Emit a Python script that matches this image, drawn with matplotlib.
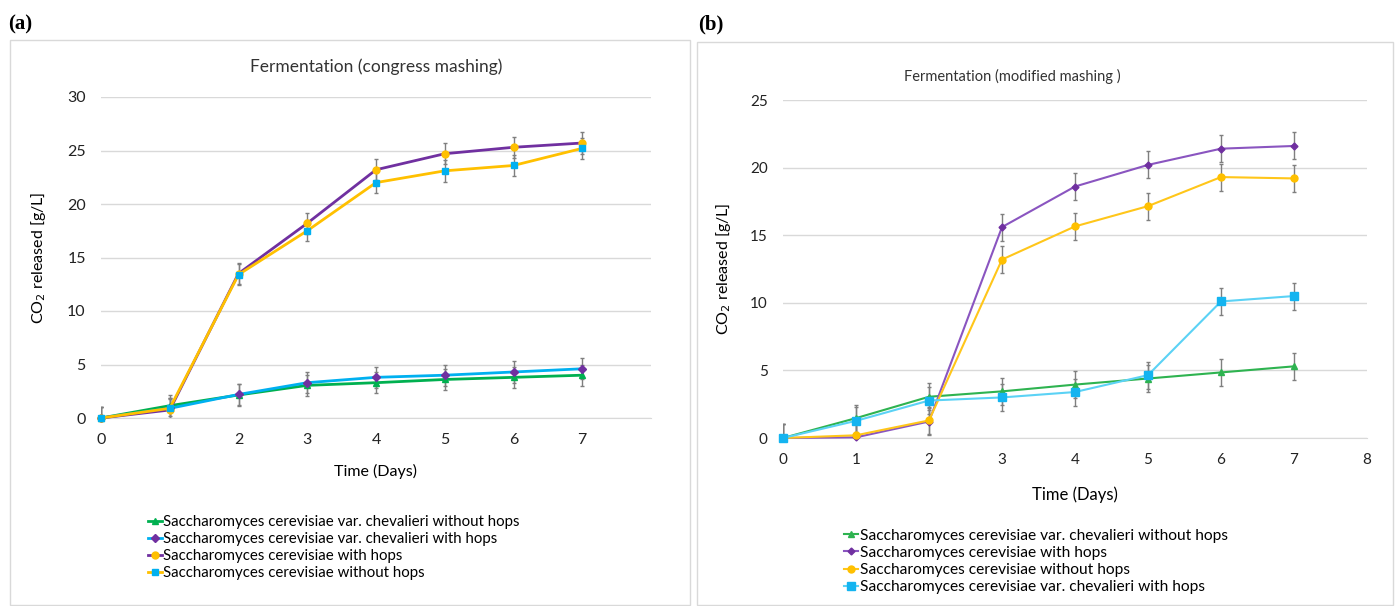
import matplotlib
matplotlib.use("Agg")
import matplotlib.pyplot as plt
from matplotlib.patches import Rectangle

plt.rcParams['font.family'] = ['Lato', 'DejaVu Sans']

days = [0, 1, 2, 3, 4, 5, 6, 7]

# panel (a) - congress mashing
a_labels = ["Saccharomyces cerevisiae var. chevalieri without hops",
            "Saccharomyces cerevisiae var. chevalieri with hops",
            "Saccharomyces cerevisiae with hops",
            "Saccharomyces cerevisiae without hops"]
a_chev_nohops = [0, 1.15, 2.15, 3.05, 3.3, 3.6, 3.8, 4.0]
a_chev_hops = [0, 0.9, 2.2, 3.3, 3.8, 4.0, 4.3, 4.6]
a_cer_hops = [0, 0.75, 13.5, 18.2, 23.2, 24.7, 25.3, 25.7]
a_cer_nohops = [0, 0.9, 13.4, 17.5, 22.0, 23.1, 23.6, 25.2]

# panel (b) - modified mashing
b_labels = ["Saccharomyces cerevisiae var. chevalieri without hops",
            "Saccharomyces cerevisiae with hops",
            "Saccharomyces cerevisiae without hops",
            "Saccharomyces cerevisiae var. chevalieri with hops"]
b_chev_nohops = [0, 1.47, 3.05, 3.45, 3.95, 4.4, 4.85, 5.3]
b_cer_hops = [0, 0.05, 1.22, 15.6, 18.6, 20.2, 21.4, 21.6]
b_cer_nohops = [0, 0.2, 1.3, 13.2, 15.65, 17.15, 19.3, 19.2]
b_chev_hops = [0, 1.27, 2.77, 3.0, 3.4, 4.65, 10.1, 10.5]

err = 1.0

fig = plt.figure(figsize=(13.95, 6.06), dpi=100)

# panel frames
fig.patches.append(Rectangle((10/1395, 1-605/606), 680/1395, 565/606, transform=fig.transFigure,
                             fill=False, edgecolor='#d9d9d9', linewidth=1))
fig.patches.append(Rectangle((697/1395, 1-605/606), 696/1395, 563/606, transform=fig.transFigure,
                             fill=False, edgecolor='#d9d9d9', linewidth=1))
fig.text(8/1395, 1-24/606, "(a)", fontsize=15, fontweight='bold', family='Liberation Serif', va='center')
fig.text(698/1395, 1-24/606, "(b)", fontsize=15, fontweight='bold', family='Liberation Serif', va='center')


def style_axes(ax, ymax, xmax, xticks, fs):
    ax.set_xlim(0, xmax)
    ax.set_ylim(0, ymax)
    ax.set_yticks(range(0, ymax + 1, 5))
    ax.set_xticks(xticks)
    ax.grid(axis='y', color='#d9d9d9', linewidth=1)
    ax.set_axisbelow(True)
    for s in ['top', 'right', 'left']:
        ax.spines[s].set_visible(False)
    ax.spines['bottom'].set_color('#d9d9d9')
    ax.tick_params(length=0, labelsize=fs, colors='#222222', pad=11)


def series(ax, y, lc, mc, marker, ms, lw, label):
    ax.errorbar(days, y, yerr=err, fmt='none', ecolor='#7f7f7f', elinewidth=1, capsize=1.5, zorder=2)
    ax.plot(days, y, color=lc, linewidth=lw, marker=marker, markersize=ms,
            markerfacecolor=mc, markeredgecolor=mc, label=label, zorder=3, clip_on=False)


# ---- (a)
ax1 = fig.add_axes([101/1395, 1-418/606, 550/1395, 321/606])
style_axes(ax1, 30, 8, days, 11.5)
series(ax1, a_chev_nohops, '#00b050', '#00b050', '^', 4.5, 2, a_labels[0])
series(ax1, a_chev_hops, '#00b0f0', '#7030a0', 'D', 4, 2, a_labels[1])
series(ax1, a_cer_hops, '#7030a0', '#ffc000', 'o', 5, 2, a_labels[2])
series(ax1, a_cer_nohops, '#ffc000', '#00b0f0', 's', 5, 2, a_labels[3])
ax1.set_title("Fermentation (congress mashing)", fontsize=12.5, color='#333333', pad=18)
ax1.set_xlabel("Time (Days)", fontsize=11.5, labelpad=12)
ax1.set_ylabel("CO$_2$ released [g/L]", fontsize=11.5, labelpad=14)
ax1.legend(loc='upper left', bbox_to_anchor=(41/550, -0.285), frameon=False, fontsize=10.8,
           handlelength=0.9, handletextpad=0.1, labelspacing=0.2, borderaxespad=0)

# ---- (b)
ax2 = fig.add_axes([783/1395, 1-438/606, 584/1395, 338/606])
style_axes(ax2, 25, 8, range(0, 9), 11)
series(ax2, b_chev_nohops, '#2eb350', '#2eb350', '^', 4.5, 1.5, b_labels[0])
series(ax2, b_cer_hops, '#8a55c0', '#7030a0', 'D', 3.5, 1.5, b_labels[1])
series(ax2, b_cer_nohops, '#ffc61a', '#ffc000', 'o', 5, 1.5, b_labels[2])
series(ax2, b_chev_hops, '#5bd2f5', '#14b4f0', 's', 5.5, 1.5, b_labels[3])
ax2.set_title("Fermentation (modified mashing )", fontsize=10.5, color='#333333', pad=14,
              x=(1012-783)/584)
ax2.set_xlabel("Time (Days)", fontsize=12, labelpad=14)
ax2.set_ylabel("CO$_2$ released [g/L]", fontsize=11.5, labelpad=12)
ax2.legend(loc='upper left', bbox_to_anchor=(55/584, -0.25), frameon=False, fontsize=11.2,
           handlelength=0.9, handletextpad=0.1, labelspacing=0.2, borderaxespad=0)

fig.savefig("out.png", dpi=100)
